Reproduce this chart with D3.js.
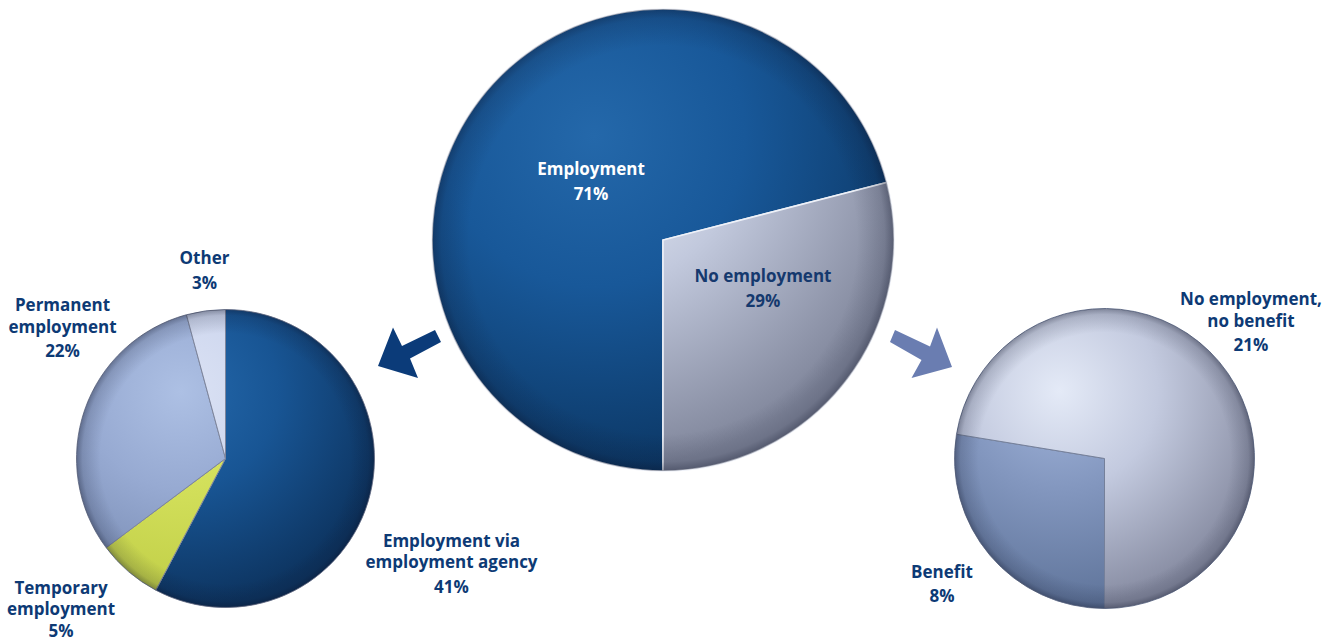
<!DOCTYPE html>
<html>
<head>
<meta charset="utf-8">
<script src="https://cdn.jsdelivr.net/npm/d3@7"></script>
<style>
  html, body { margin: 0; padding: 0; background: #ffffff; }
  svg { display: block; }
  text { font-family: "Open Sans", "DejaVu Sans", sans-serif; font-weight: 700; font-size: 17px; }
</style>
</head>
<body>
<svg id="chart" width="1337" height="641"></svg>
<script>
// Overall outcome
const overviewLabels = [["Employment"], ["No employment"]];
const overviewValues = [71, 29];

// Breakdown of the employment share
const employmentLabels = [["Employment via", "employment agency"], ["Temporary", "employment"], ["Permanent", "employment"], ["Other"]];
const employmentValues = [41, 5, 22, 3];

// Breakdown of the no-employment share
const noEmploymentLabels = [["Benefit"], ["No employment,", "no benefit"]];
const noEmploymentValues = [8, 21];

// Slice shading: [light, mid, dark]
const overviewColors = [["#2468aa", "#185899", "#0c3866"], ["#f0f3fa", "#c2c9dd", "#80869b"]];
const employmentColors = [["#2468ab", "#185594", "#0d3460"], ["#e2ec72", "#d2df5a", "#bfcd46"], ["#adc0e4", "#97aad2", "#7487ae"], ["#dbe2f4", "#cdd6ee", "#b9c3dd"]];
const noEmploymentColors = [["#a3b6dc", "#8397bf", "#5f749a"], ["#e4eaf7", "#c3cadf", "#878ca2"]];

const svg = d3.select("#chart");
const defs = svg.append("defs");

function percentText(v) { return v + "%"; }

function drawPie(cfg) {
  const { id, cx, cy, R, values, labels, colors, start, labelPos, labelColors, stroke, pctGap } = cfg;
  const pie = d3.pie().sort(null).startAngle(start).endAngle(start + 2 * Math.PI);
  const arc = d3.arc().innerRadius(0).outerRadius(R);
  const arcs = pie(values);

  const g = svg.append("g").attr("transform", `translate(${cx},${cy})`);

  // per-slice spherical lighting, lit from the upper left
  colors.forEach((c, i) => {
    const grad = defs.append("radialGradient")
      .attr("id", `${id}-g${i}`)
      .attr("gradientUnits", "userSpaceOnUse")
      .attr("cx", -0.3 * R).attr("cy", -0.45 * R)
      .attr("fx", -0.3 * R).attr("fy", -0.45 * R)
      .attr("r", 1.45 * R);
    grad.append("stop").attr("offset", 0).attr("stop-color", c[0]);
    grad.append("stop").attr("offset", 0.45).attr("stop-color", c[1]);
    grad.append("stop").attr("offset", 1).attr("stop-color", c[2]);
  });

  const rim = defs.append("radialGradient")
    .attr("id", `${id}-rim`)
    .attr("gradientUnits", "userSpaceOnUse")
    .attr("cx", 0).attr("cy", 0).attr("r", R);
  rim.append("stop").attr("offset", 0.84).attr("stop-color", "#0a0f24").attr("stop-opacity", 0);
  rim.append("stop").attr("offset", 0.96).attr("stop-color", "#0a0f24").attr("stop-opacity", 0.16);
  rim.append("stop").attr("offset", 1).attr("stop-color", "#0a0f24").attr("stop-opacity", 0.38);

  g.selectAll("path.slice")
    .data(arcs)
    .join("path")
    .attr("class", "slice")
    .attr("d", arc)
    .attr("fill", (d, i) => `url(#${id}-g${i})`)
    .attr("stroke", stroke.color)
    .attr("stroke-width", stroke.width)
    .attr("stroke-linejoin", "miter");

  g.append("circle").attr("r", R).attr("fill", `url(#${id}-rim)`);

  // labels: name lines then percentage
  arcs.forEach((d, i) => {
    const [lx, ly] = labelPos[i];
    const gap = (pctGap && pctGap[i]) || 24.5;
    const t = g.append("text")
      .attr("text-anchor", "middle")
      .attr("fill", labelColors[i]);
    labels[i].forEach((line, k) => {
      t.append("tspan").attr("x", lx).attr("y", ly + k * 21.5).text(line);
    });
    t.append("tspan").attr("x", lx).attr("y", ly + (labels[i].length - 1) * 21.5 + gap).text(percentText(d.data));
  });
}

drawPie({
  id: "overview", cx: 663, cy: 240, R: 231,
  values: overviewValues, labels: overviewLabels, colors: overviewColors,
  start: Math.PI,
  labelPos: [[-72, -65], [100, 42]],
  labelColors: ["#ffffff", "#15396e"],
  stroke: { color: "#eef1f8", width: 1.6 }
});

drawPie({
  id: "employment", cx: 225.5, cy: 458.5, R: 149,
  values: employmentValues, labels: employmentLabels, colors: employmentColors,
  start: 0,
  labelPos: [[226, 88], [-164.5, 135], [-163, -147.5], [-21, -194.5]],
  pctGap: [null, 21.5, null, null],
  labelColors: ["#0d3a75", "#0d3a75", "#0d3a75", "#0d3a75"],
  stroke: { color: "#7d859c", width: 1 }
});

drawPie({
  id: "noemployment", cx: 1104.5, cy: 458.5, R: 150,
  values: noEmploymentValues, labels: noEmploymentLabels, colors: noEmploymentColors,
  start: Math.PI,
  labelPos: [[-162.5, 119], [146.5, -153.5]],
  labelColors: ["#0d3a75", "#0d3a75"],
  stroke: { color: "#75809a", width: 1 }
});

// connector arrows from the overview pie to each breakdown
const arrows = [
  { fill: "#0b3b79", pts: [[435, 330], [441, 342], [410, 358.5], [418, 378], [378, 366], [393, 327.5], [402, 346]] },
  { fill: "#6a7db1", pts: [[895, 330], [890, 342], [921.5, 360], [911.5, 378], [952, 367], [937, 327.5], [930, 346.5]] }
];
svg.selectAll("path.arrow")
  .data(arrows)
  .join("path")
  .attr("class", "arrow")
  .attr("d", d => d3.line()(d.pts) + "Z")
  .attr("fill", d => d.fill);
</script>
</body>
</html>
